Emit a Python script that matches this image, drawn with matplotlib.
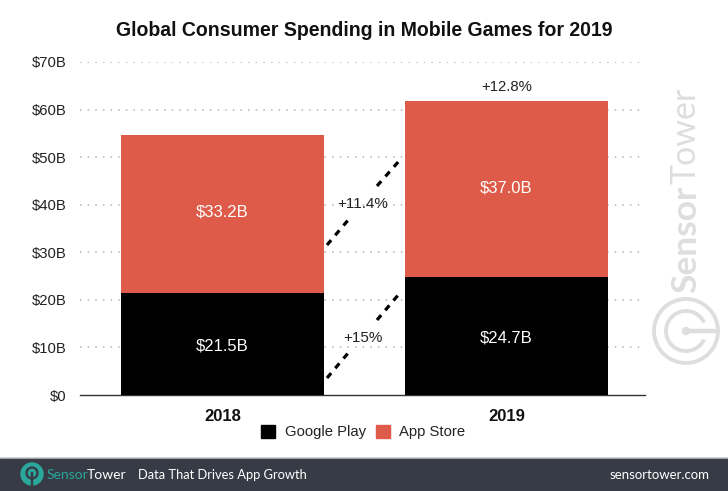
import matplotlib
matplotlib.use("Agg")
import matplotlib.pyplot as plt
from matplotlib.patches import Circle, Rectangle, Arc

years = ["2018", "2019"]
google_play = [21.5, 24.7]
app_store = [33.2, 37.0]
gp_labels = [r"\$21.5B", r"\$24.7B"]
as_labels = [r"\$33.2B", r"\$37.0B"]
y_ticks = [0, 10, 20, 30, 40, 50, 60, 70]
y_labels = [r"\$0", r"\$10B", r"\$20B", r"\$30B", r"\$40B", r"\$50B", r"\$60B", r"\$70B"]
total_growth = "+12.8%"
as_growth = "+11.4%"
gp_growth = "+15%"

plt.rcParams["font.family"] = ["Liberation Sans", "DejaVu Sans"]
W, H = 728, 491
fig = plt.figure(figsize=(W / 100, H / 100), dpi=100, facecolor="white")

ov = fig.add_axes([0, 0, 1, 1], zorder=5)
ov.set_xlim(0, W); ov.set_ylim(H, 0); ov.axis("off"); ov.patch.set_alpha(0)

ax = fig.add_axes([80 / W, 1 - 395 / H, 565 / W, 333 / H], zorder=2)
ax.patch.set_alpha(0)
ax.set_xlim(-0.5018, 1.488)
ax.set_ylim(0, 70)
xs = [0, 1]
black, red = "#000000", "#DE5B49"
ax.bar(xs, google_play, width=0.715, color=black, zorder=3)
ax.bar(xs, app_store, bottom=google_play, width=0.715, color=red, zorder=3)
for s in ["top", "right", "left"]:
    ax.spines[s].set_visible(False)
ax.spines["bottom"].set_color("#333333")
ax.spines["bottom"].set_linewidth(1.0)
ax.set_yticks(y_ticks)
ax.set_yticklabels(y_labels, fontsize=10.7, color="#222222")
ax.tick_params(axis="y", length=0, pad=10)
ax.set_xticks(xs)
ax.set_xticklabels(years, fontsize=12, fontweight="bold", color="#111111")
ax.tick_params(axis="x", length=0, pad=10)
ax.yaxis.grid(True, linestyle=(0, (1, 4)), color="#b5b5b5", linewidth=1.1, zorder=1)
ax.set_axisbelow(True)
ax.yaxis.get_gridlines()[0].set_visible(False)

for x, g, a, gl, al in zip(xs, google_play, app_store, gp_labels, as_labels):
    ax.text(x, g / 2 - 0.4, gl, ha="center", va="center", color="white", fontsize=12, zorder=4)
    ax.text(x, g + a / 2 + 0.4, al, ha="center", va="center", color="white", fontsize=12, zorder=4)
ax.text(1, google_play[1] + app_store[1] + 1.5, total_growth, ha="center", va="bottom", fontsize=10.7, color="#222222")

dash = dict(color="black", linewidth=2.3, linestyle=(0, (2.0, 2.0)), solid_capstyle="butt")
ov.plot([327, 349], [245, 219], **dash)
ov.plot([377, 399], [186, 161], **dash)
ov.plot([327, 349], [378, 352], **dash)
ov.plot([377, 399], [320, 294], **dash)
ov.text(363, 204, as_growth, ha="center", va="center", fontsize=11, color="#222222")
ov.text(363, 338, gp_growth, ha="center", va="center", fontsize=11, color="#222222")

ov.text(364, 30, "Global Consumer Spending in Mobile Games for 2019", ha="center", va="center",
        fontsize=14.05, fontweight="bold", color="#111111")

ov.add_patch(Rectangle((261, 425), 14, 13, color=black))
ov.text(285, 432, "Google Play", va="center", fontsize=10.7, color="#222222")
ov.add_patch(Rectangle((376, 425), 14, 13, color=red))
ov.text(399, 432, "App Store", va="center", fontsize=10.7, color="#222222")

wm = "#dcdfde"
ov.text(686, 293, "Sensor", rotation=90, ha="center", va="bottom", fontsize=25.5, fontweight="bold",
        family="Lato", color=wm)
ov.text(686, 184, "Tower", rotation=90, ha="center", va="bottom", fontsize=24.5,
        family="Lato", color=wm)
ov.add_patch(Circle((686, 331), 32, fill=False, ec=wm, lw=2.8))
ov.add_patch(Arc((686, 331), 40, 40, theta1=25, theta2=335, ec=wm, lw=2.8))
ov.plot([686, 716], [331, 331], color=wm, lw=3.2)
ov.add_patch(Circle((686, 331), 3.5, color=wm))

bg = "#363B46"
ov.add_patch(Rectangle((0, 458), W, 33, color=bg))
ov.plot([0, W], [458, 458], color="#9a9fa3", lw=0.8)
teal = "#2BA79B"
ov.add_patch(Circle((32, 474), 11, color=teal))
ov.add_patch(Circle((32, 473), 5.5, fill=False, ec=bg, lw=1.7))
ov.plot([32, 32], [473, 485], color=bg, lw=1.7)
ov.text(46.5, 475, "Sensor", va="center", fontsize=10, family="Lato", color=teal)
ov.text(86.5, 475, "Tower", va="center", fontsize=10, family="Lato", color="white")
ov.text(137.5, 475, "Data That Drives App Growth", va="center", fontsize=9.25, family="Lato", color="white")
ov.text(710, 475, "sensortower.com", va="center", ha="right", fontsize=9.5, family="Lato", color="white")

fig.savefig("out.png", dpi=100)
